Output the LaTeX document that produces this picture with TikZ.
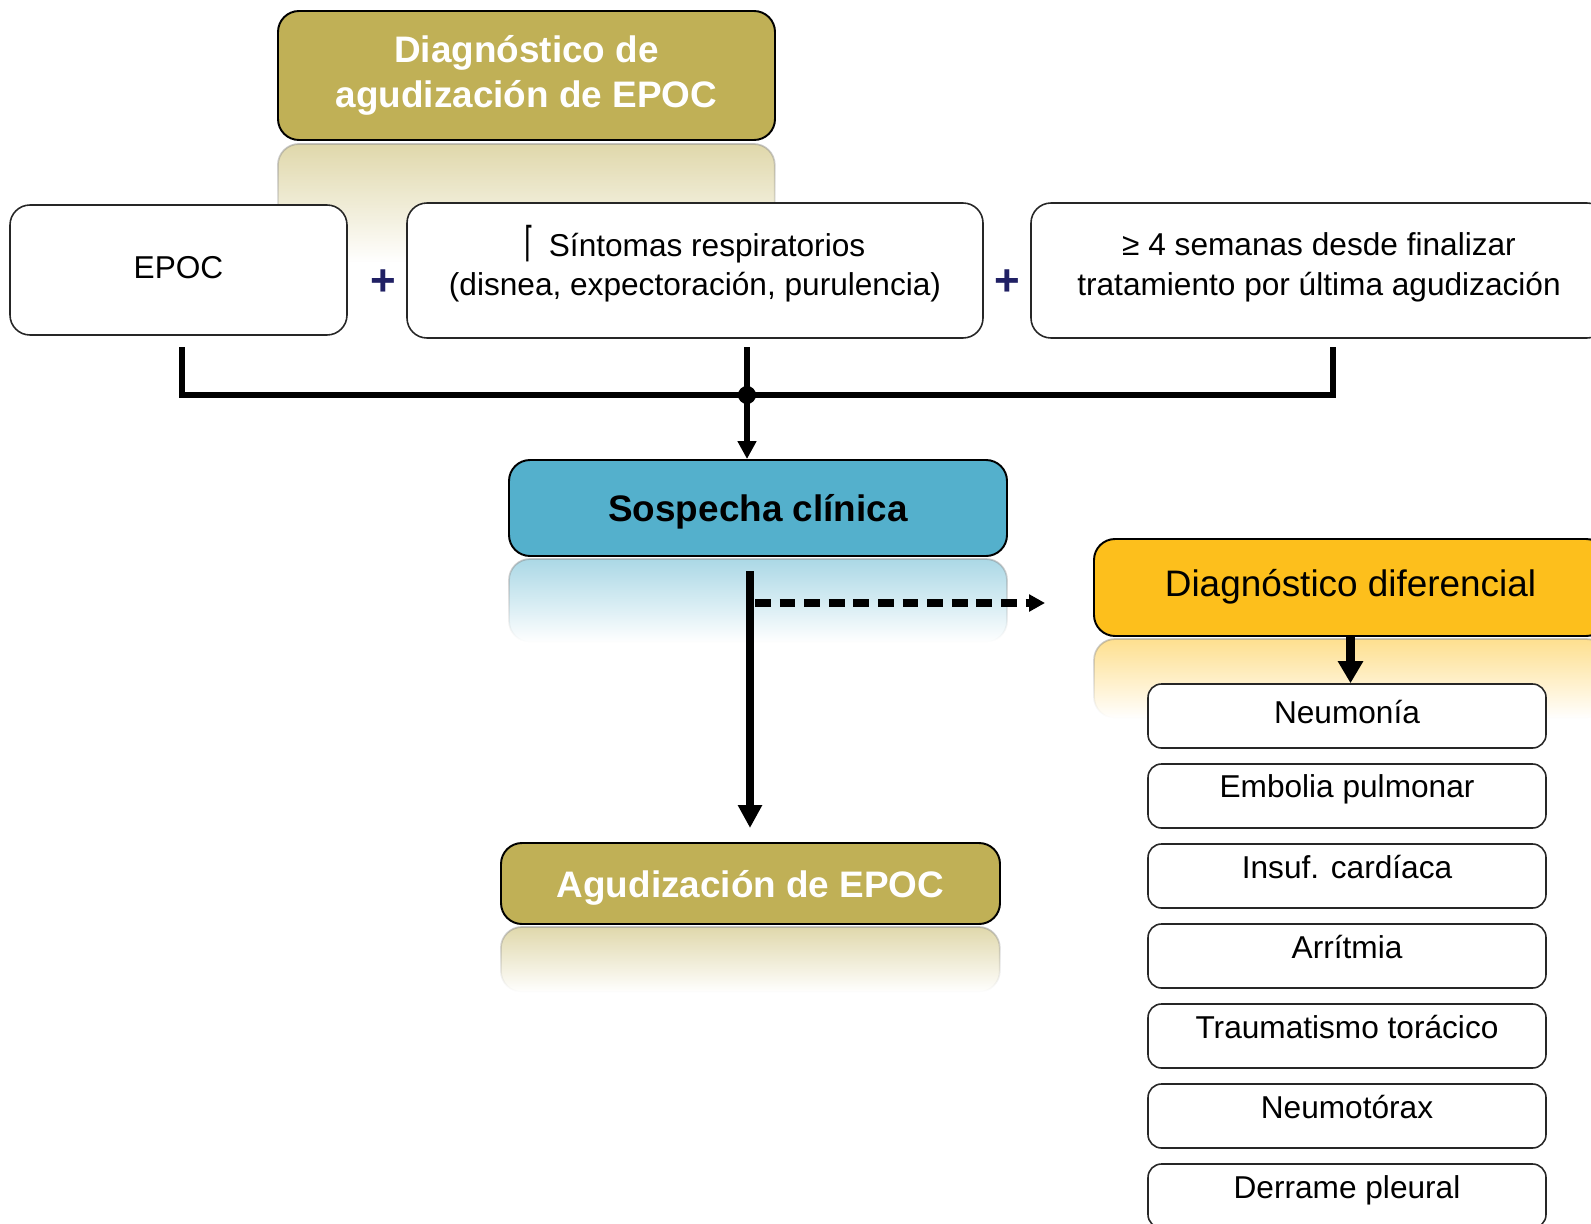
\documentclass[tikz,border=0pt]{standalone}
\usepackage{fontspec}
\setmainfont{Liberation Sans}
\newfontfamily\symfont{DejaVu Sans}
\usetikzlibrary{arrows.meta,calc,fit,fadings}

\definecolor{olivebox}{RGB}{192,176,86}
\definecolor{bluebox}{RGB}{84,176,204}
\definecolor{goldbox}{RGB}{253,191,28}
\definecolor{plusnavy}{RGB}{32,32,100}

% mirrored "glass" reflection under the coloured boxes
\tikzfading[name=reflfade, top color=transparent!50, middle color=transparent!82, bottom color=transparent!100]

\begin{document}
\begin{tikzpicture}[x=0.02cm, y=-0.02cm,
  wbox/.style={draw=black!85, line width=0.9pt, fill=white, rounded corners=0.4cm, inner sep=0pt},
  lbox/.style={draw=black!85, line width=0.9pt, fill=white, rounded corners=0.27cm, inner sep=0pt},
  cbox/.style={draw=black, line width=1.1pt, fill=#1, rounded corners=0.42cm, inner sep=0pt},
  refl/.style={fill=#1, draw=black!45, line width=1pt, path fading=reflfade, rounded corners=0.42cm},
  txt/.style={font=\fontsize{18}{22.5}\selectfont, align=center, inner sep=0pt},
  bigtxt/.style={font=\fontsize{21}{25.3}\selectfont, align=center, inner sep=0pt},
  boldtxt/.style={font=\bfseries\fontsize{21}{25.3}\selectfont, align=center, inner sep=0pt},
  plussign/.style={font=\bfseries\fontsize{25}{25}\selectfont, text=plusnavy, inner sep=0pt},
  conn/.style={line width=3.8pt, line join=miter},
  mainarrow/.style={line width=5.1pt, -{Triangle[width=0.46cm,length=0.46cm]}},
  ddarrow/.style={line width=5.6pt, -{Triangle[width=0.48cm,length=0.44cm]}},
  dasharrow/.style={line width=4pt, dash pattern=on 9pt off 5pt, -{Triangle[width=0.33cm,length=0.32cm]}},
  jarrow/.style={line width=3.8pt, -{Triangle[width=0.36cm,length=0.36cm]}}
]
\useasboundingbox (0,0) rectangle (1591,1223);

% reflections
\path[refl=olivebox] (278,144) rectangle (775,262);
\path[refl=bluebox] (509,559) rectangle (1007,642);
\path[refl=goldbox] (1094,639) rectangle (1607,718);
\path[refl=olivebox] (501,927) rectangle (1000,992);

% title
\node[cbox=olivebox, fit={(278,11) (775,140)}] (title) {};
\node[boldtxt, text=white] (titleT) at ($(title.center)+(0,0)$) {Diagnóstico de\\agudización de EPOC};

% three criteria
\node[wbox, fit={(10,205) (347,335)}] (epoc) {};
\node[txt] (epocT) at ($(epoc.center)+(0,-2)$) {EPOC};

\node[wbox, fit={(407,203) (983,338)}] (sint) {};
\node[txt] (sintT) at ($(sint.center)+(0,-7)$) {{\symfont\raisebox{0pt}{\scalebox{0.8}[1.3]{⌈}}}\hspace{0.45em}Síntomas respiratorios\\(disnea, expectoración, purulencia)};

\node[wbox, fit={(1031,203) (1607,338)}] (sem) {};
\node[txt] (semT) at ($(sem.center)+(0,-3)$) {≥ 4 semanas desde finalizar\\tratamiento por última agudización};

\node[plussign] (plus1) at (383,283) {+};
\node[plussign] (plus2) at (1007,283) {+};

% joining bracket
\coordinate (tl) at (182,347);
\coordinate (tm) at (747,347);
\coordinate (tr) at (1333,347);
\coordinate (jm) at (747,395);

% suspicion
\node[cbox=bluebox, fit={(509,460) (1007,556)}] (sosp) {};
\node[boldtxt] (sospT) at ($(sosp.center)+(0,4)$) {Sospecha clínica};

\draw[conn] (tl) |- (jm) -| (tr);
\draw[conn] (tm) -- (jm);
\draw[jarrow] (jm) -- (jm |- sosp.north);
\fill (jm) circle[radius=0.18cm];

% outcome
\node[cbox=olivebox, fit={(501,843) (1000,924)}] (agud) {};
\node[boldtxt, text=white] (agudT) at ($(agud.center)+(0,4)$) {Agudización de EPOC};

% differential diagnosis
\node[cbox=goldbox, fit={(1094,539) (1607,636)}] (dd) {};
\node[bigtxt] (ddT) at ($(dd.center)+(0,-1)$) {Diagnóstico diferencial};

\node[lbox, fit={(1148,684) (1546,748)}] (n1) {};
\node[txt, anchor=base] (n1T) at ($(n1.north)+(0,40)$) {Neumonía};
\node[lbox, fit={(1148,764) (1546,828)}] (n2) {};
\node[txt, anchor=base] (n2T) at ($(n2.north)+(0,34)$) {Embolia pulmonar};
\node[lbox, fit={(1148,844) (1546,908)}] (n3) {};
\node[txt, anchor=base] (n3T) at ($(n3.north)+(0,35)$) {Insuf. cardíaca};
\node[lbox, fit={(1148,924) (1546,988)}] (n4) {};
\node[txt, anchor=base] (n4T) at ($(n4.north)+(0,35)$) {Arrítmia};
\node[lbox, fit={(1148,1004) (1546,1068)}] (n5) {};
\node[txt, anchor=base] (n5T) at ($(n5.north)+(0,35)$) {Traumatismo torácico};
\node[lbox, fit={(1148,1084) (1546,1148)}] (n6) {};
\node[txt, anchor=base] (n6T) at ($(n6.north)+(0,35)$) {Neumotórax};
\node[lbox, fit={(1148,1164) (1546,1228)}] (n7) {};
\node[txt, anchor=base] (n7T) at ($(n7.north)+(0,35)$) {Derrame pleural};

% arrows out of the suspicion box
\coordinate (ms) at (750,571);
\coordinate (me) at (750,828);
\coordinate (ds) at (755,603);
\coordinate (de) at (1045,603);
\draw[mainarrow] (ms) -- (me);
\draw[dasharrow] (ds) -- (de);
\draw[ddarrow] (dd.south) -- (dd.south |- n1.north);
\end{tikzpicture}
\end{document}
